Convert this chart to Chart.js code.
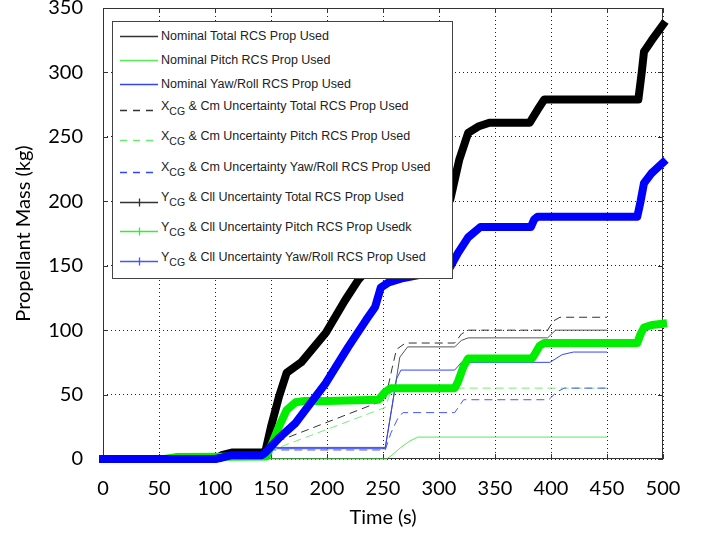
<!DOCTYPE html>
<html>
<head>
<meta charset="utf-8">
<script src="https://cdn.jsdelivr.net/npm/chart.js@4.4.1/dist/chart.umd.min.js"></script>
<style>
  body { margin: 0; background: #fff; }
  #wrap { position: relative; width: 706px; height: 535px; }
  #legendBox {
    position: absolute; left: 112px; top: 21px; width: 339px; height: 256px;
    background: #fff; border: 1px solid #444;
    font-family: "Liberation Sans", Arial, sans-serif; font-size: 12.5px; color: #222;
  }
  #legendBox svg { position: absolute; left: 7px; }
  #legendBox span.txt { position: absolute; left: 48px; line-height: 16px; white-space: nowrap; }
  #legendBox sub { font-size: 10.5px; vertical-align: -5px; line-height: 0; }
</style>
</head>
<body>
<div id="wrap">
  <canvas id="myChart" width="706" height="535"></canvas>
  <div id="legendBox"></div>
</div>
<script>
// tick labels
const xTicks = [0, 50, 100, 150, 200, 250, 300, 350, 400, 450, 500];
const yTicks = [0, 50, 100, 150, 200, 250, 300, 350];

// series names (XCG / YCG get a subscript in the legend)
const seriesLabels = [
  'Nominal Total RCS Prop Used',
  'Nominal Pitch RCS Prop Used',
  'Nominal Yaw/Roll RCS Prop Used',
  'XCG & Cm Uncertainty Total RCS Prop Used',
  'XCG & Cm Uncertainty Pitch RCS Prop Used',
  'XCG & Cm Uncertainty Yaw/Roll RCS Prop Used',
  'YCG & Cll Uncertainty Total RCS Prop Used',
  'YCG & Cll Uncertainty Pitch RCS Prop Usedk',
  'YCG & Cll Uncertainty Yaw/Roll RCS Prop Used'
];

// time (s) / mass (kg)
const nomTotalT = [0, 138, 146, 252, 258, 265, 272, 314, 320, 326, 397, 404, 450];
const nomTotalV = [0, 0, 9, 9, 40, 79, 87, 87, 92, 94, 94, 100, 100];
const nomPitchT = [0, 253, 258, 266, 274, 281, 450];
const nomPitchV = [0, 0, 3, 9, 14, 17, 17];
const nomYawT = [0, 138, 146, 252, 256, 262, 266, 314, 320, 399, 410, 420, 450];
const nomYawV = [0, 0, 8, 8, 30, 62, 69, 69, 75, 75, 81, 83, 83];

const xcgTotalT = [0, 138, 145, 252, 258, 262, 270, 314, 320, 326, 397, 402, 408, 450];
const xcgTotalV = [0, 0, 10, 46, 70, 85, 90, 90, 97, 100, 100, 107, 110, 110];
const xcgPitchT = [0, 140, 148, 252, 256, 260, 450];
const xcgPitchV = [0, 0, 6, 40, 50, 55, 55];
const xcgYawT = [0, 138, 146, 252, 257, 264, 268, 314, 322, 398, 405, 412, 450];
const xcgYawV = [0, 0, 7, 7, 20, 33, 36, 36, 46, 46, 52, 55, 55];

const ycgTotalT = [0, 100, 106, 115, 142, 145, 150, 157, 164, 177, 199, 216, 228, 250, 280, 300, 310, 318, 326, 335, 345, 381, 388, 394, 478, 481, 483, 490, 500];
const ycgTotalV = [0, 0, 3, 5, 5, 6, 25, 48, 67, 75, 98, 123, 139, 160, 180, 195, 201, 232, 253, 258, 261, 261, 271, 279, 279, 300, 316, 325, 337];
const ycgPitchT = [0, 55, 65, 142, 146, 151, 157, 164, 172, 180, 200, 246, 252, 257, 314, 317, 322, 326, 383, 386, 390, 394, 477, 480, 483, 490, 500];
const ycgPitchV = [0, 0, 1.5, 2, 2, 12, 25, 38, 44, 45, 45, 46, 52, 55, 55, 60, 72, 78, 78, 82, 88, 90, 90, 97, 102, 104, 105];
const ycgYawT = [0, 100, 106, 115, 142, 145, 158, 172, 185, 199, 219, 235, 243, 248, 255, 266, 290, 310, 317, 326, 337, 382, 385, 388, 477, 480, 483, 490, 500];
const ycgYawV = [0, 0, 1, 3, 3, 5, 17, 28, 43, 59, 87, 108, 118, 133, 137, 140, 144, 149, 160, 172, 180, 180, 186, 188, 188, 200, 214, 222, 230];

const pts = (t, v) => t.map((x, i) => ({ x: x, y: v[i] }));

const seriesData = [
  pts(nomTotalT, nomTotalV), pts(nomPitchT, nomPitchV), pts(nomYawT, nomYawV),
  pts(xcgTotalT, xcgTotalV), pts(xcgPitchT, xcgPitchV), pts(xcgYawT, xcgYawV),
  pts(ycgTotalT, ycgTotalV), pts(ycgPitchT, ycgPitchV), pts(ycgYawT, ycgYawV)
];

// styles
const lineColors = ['#555555', '#55ee55', '#3344ff', '#333333', '#77ee77', '#4455ff', '#000000', '#00ee00', '#0000ff'];
const legendColors = ['#333333', '#55ee55', '#3344ff', '#333333', '#66ee66', '#3344ff', '#333333', '#33ee33', '#4455ff'];
const dashes = [[], [], [], [8, 5], [8, 5], [8, 5], [], [], []];
const widths = [1, 1, 1, 1, 1, 1, 8, 8, 8];

const datasets = seriesData.map((d, i) => ({
  label: seriesLabels[i],
  data: d,
  borderColor: lineColors[i],
  borderWidth: widths[i],
  borderDash: dashes[i],
  borderCapStyle: widths[i] > 1 ? 'square' : 'butt',
  borderJoinStyle: 'round',
  pointRadius: 0,
  fill: false,
  tension: 0,
  clip: 8,
  order: 10 - i
}));

// box round the plot + inward tick marks
const frame = {
  id: 'frame',
  beforeDatasetsDraw(chart) {
    const { ctx, chartArea: a, scales } = chart;
    ctx.save();
    ctx.strokeStyle = '#333';
    ctx.lineWidth = 1;
    ctx.setLineDash([]);
    ctx.strokeRect(Math.round(a.left) + 0.5, Math.round(a.top) + 0.5, Math.round(a.width) - 1, Math.round(a.height) - 1);
    ctx.beginPath();
    scales.x.ticks.forEach(t => {
      const px = Math.round(scales.x.getPixelForValue(t.value)) + 0.5;
      ctx.moveTo(px, a.bottom); ctx.lineTo(px, a.bottom - 5);
      ctx.moveTo(px, a.top); ctx.lineTo(px, a.top + 5);
    });
    scales.y.ticks.forEach(t => {
      const py = Math.round(scales.y.getPixelForValue(t.value)) + 0.5;
      ctx.moveTo(a.left, py); ctx.lineTo(a.left + 5, py);
      ctx.moveTo(a.right, py); ctx.lineTo(a.right - 5, py);
    });
    ctx.stroke();
    ctx.restore();
  }
};

const tickFont = { family: 'Lato', size: 20 };

new Chart(document.getElementById('myChart'), {
  type: 'line',
  data: { datasets: datasets },
  options: {
    responsive: false,
    animation: false,
    layout: { padding: { top: 8, right: 43, bottom: 0, left: 0 } },
    plugins: { legend: { display: false }, tooltip: { enabled: false } },
    scales: {
      x: {
        type: 'linear', min: 0, max: 500,
        afterBuildTicks: s => { s.ticks = xTicks.map(v => ({ value: v })); },
        afterFit: s => { s.height = 76; s.paddingLeft = 0; s.paddingRight = 0; },
        ticks: { color: '#000', font: tickFont, padding: 18, maxRotation: 0 },
        grid: { color: '#222', drawTicks: false },
        border: { display: false, dash: [1, 3] },
        title: { display: true, text: 'Time (s)', color: '#000', font: tickFont, padding: { top: 0, bottom: 5 } }
      },
      y: {
        type: 'linear', min: 0, max: 350,
        afterBuildTicks: s => { s.ticks = yTicks.map(v => ({ value: v })); },
        afterFit: s => { s.width = 103; s.paddingTop = 0; s.paddingBottom = 0; },
        ticks: { color: '#000', font: tickFont, padding: 20 },
        grid: { color: '#222', drawTicks: false },
        border: { display: false, dash: [1, 3] },
        title: { display: true, text: 'Propellant Mass (kg)', color: '#000', font: tickFont, padding: { top: 12, bottom: 0 } }
      }
    }
  },
  plugins: [frame]
});

// legend (html so the CG subscripts stay real text)
const lineYs = [14, 38, 62, 88, 118, 150, 180, 209, 239];
const textYs = [14, 38, 62, 84, 114, 145, 175, 205, 235];
const box = document.getElementById('legendBox');
const svgNS = 'http://www.w3.org/2000/svg';
datasets.forEach((ds, i) => {
  const svg = document.createElementNS(svgNS, 'svg');
  svg.setAttribute('width', 38);
  svg.setAttribute('height', 10);
  svg.style.top = (lineYs[i] - 5) + 'px';
  const ln = document.createElementNS(svgNS, 'line');
  ln.setAttribute('x1', 0); ln.setAttribute('x2', 38);
  ln.setAttribute('y1', 5.5); ln.setAttribute('y2', 5.5);
  ln.setAttribute('stroke', legendColors[i]);
  ln.setAttribute('stroke-width', 1.3);
  if (dashes[i].length) ln.setAttribute('stroke-dasharray', '7 6');
  svg.appendChild(ln);
  if (i >= 6) {
    const mk = document.createElementNS(svgNS, 'line');
    mk.setAttribute('x1', 19.5); mk.setAttribute('x2', 19.5);
    mk.setAttribute('y1', 1.5); mk.setAttribute('y2', 9.5);
    mk.setAttribute('stroke', legendColors[i]);
    mk.setAttribute('stroke-width', 1.3);
    svg.appendChild(mk);
  }
  box.appendChild(svg);

  const txt = document.createElement('span');
  txt.className = 'txt';
  txt.style.top = (textYs[i] - 8) + 'px';
  const m = ds.label.match(/^([XY])CG(.*)$/);
  if (m) {
    txt.appendChild(document.createTextNode(m[1]));
    const sub = document.createElement('sub');
    sub.textContent = 'CG';
    txt.appendChild(sub);
    txt.appendChild(document.createTextNode(m[2]));
  } else {
    txt.textContent = ds.label;
  }
  box.appendChild(txt);
});
</script>
</body>
</html>
